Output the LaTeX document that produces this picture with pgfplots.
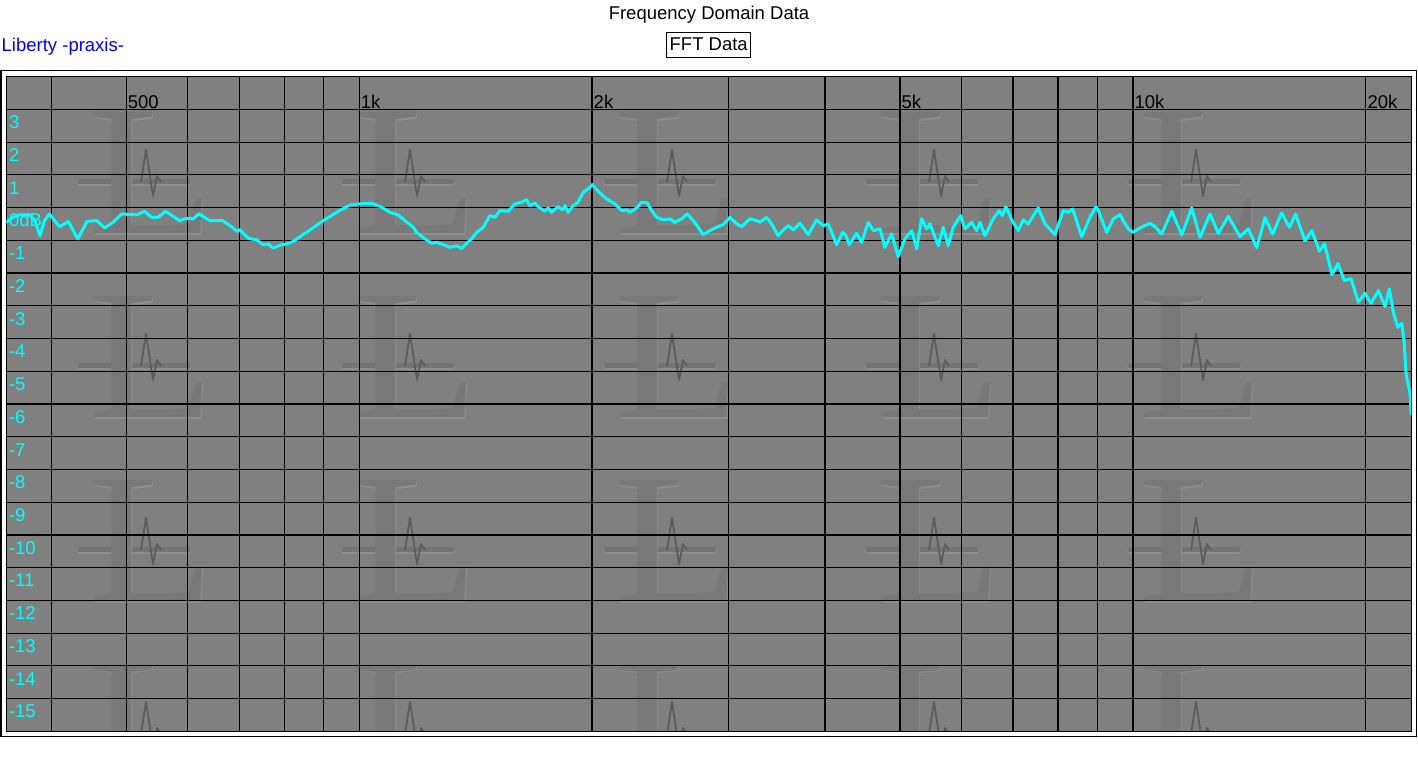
\documentclass[border=0pt]{standalone}
\usepackage{pgfplots}
\pgfplotsset{compat=1.18}
\usepackage{fontspec}
\setmainfont{Liberation Sans}
\newfontfamily\wmfont{Liberation Serif}
\definecolor{plotgray}{RGB}{128,128,128}
\definecolor{wmlight}{RGB}{141,141,141}
\definecolor{wmdark}{RGB}{121,121,121}
\definecolor{wmbar}{RGB}{116,116,116}
\definecolor{wmspike}{RGB}{92,92,92}
\definecolor{fftcyan}{RGB}{0,255,255}
\definecolor{pblue}{RGB}{0,0,255}
\begin{document}
\begin{tikzpicture}[font=\fontsize{18.5bp}{22bp}\selectfont]
\path[use as bounding box] (0,0) rectangle (1418bp,760bp);
\fill[white] (0,0) rectangle (1418bp,760bp);
% header
\node[anchor=base, inner sep=0] at (709bp,740.5bp) {Frequency Domain Data};
\draw[line width=1bp] (666.7bp,702.3bp) rectangle (750.7bp,727.7bp);
\node[anchor=base, inner sep=0] at (708.7bp,709.5bp) {FFT Data};
\node[anchor=base west, inner sep=0, text=pblue] at (1.5bp,708.5bp) {Liberty -praxis-};
% outer frame
\draw[line width=1.2bp] (1bp,23.3bp) rectangle (1416.7bp,689.3bp);
% plot background with watermark
\begin{scope}
\clip (6.3bp,28.7bp) rectangle (1411.3bp,683.3bp);
\fill[plotgray] (6.3bp,28.7bp) rectangle (1411.3bp,683.3bp);
\foreach \xl in {88,352,614,876,1138}{
  \foreach \tp in {113,297,481,665}{
    \pgfmathsetmacro{\yb}{639-\tp}
    \pgfmathsetmacro{\ybar}{691-\tp}
    \draw[wmlight, line width=6.5bp, line cap=round] ({\xl bp-8bp},{\ybar bp-1bp}) -- ({\xl bp+100bp},{\ybar bp-1bp});
    \draw[wmbar, line width=5bp, line cap=round] ({\xl bp-8bp},{\ybar bp}) -- ({\xl bp+100bp},{\ybar bp});
    \node[anchor=base west, inner sep=0, xscale=1.12, text=wmlight, font={\wmfont\fontsize{185bp}{185bp}\selectfont}] at ({\xl bp+1.5bp},{\yb bp-1.5bp}) {L};
    \node[anchor=base west, inner sep=0, xscale=1.12, text=wmdark, font={\wmfont\fontsize{185bp}{185bp}\selectfont}] at ({\xl bp},{\yb bp}) {L};
    \draw[wmspike, line width=1.8bp, line join=round] ({\xl bp+53bp},{\ybar bp}) -- ({\xl bp+58bp},{\ybar bp+32bp}) -- ({\xl bp+65bp},{\ybar bp-14bp}) -- ({\xl bp+69bp},{\ybar bp+6bp}) -- ({\xl bp+73bp},{\ybar bp});
  }}
\end{scope}
\begin{axis}[
  at={(6.3bp,28.7bp)}, anchor=south west,
  scale only axis, width=1405bp, height=654.6bp,
  xmode=log, xmin=350, xmax=22900, ymin=-16, ymax=4,
  axis line style={black, line width=1.2bp},
  major tick length=0pt, minor tick length=0pt,
  xtick={400,500,600,700,800,900,1000,2000,3000,4000,5000,6000,7000,8000,9000,10000,20000},
  xticklabels={,500,,,,,1k,2k,,,5k,,,,,10k,20k},
  xticklabel pos=upper,
  xticklabel style={anchor=base west, inner sep=0pt, xshift=1.5bp, yshift=-31.8bp, text=black},
  ytick={-15,-14,...,3},
  yticklabels={-15,-14,-13,-12,-11,-10,-9,-8,-7,-6,-5,-4,-3,-2,-1,0dB,1,2,3},
  yticklabel style={anchor=base west, inner sep=0pt, xshift=2.5bp, yshift=-19.3bp, text=fftcyan},
  xmajorgrids, ymajorgrids,
  grid style={black, line width=1.2bp},
  clip=true,
]
\addplot[fftcyan, line width=3bp, line join=round, line cap=round] table[x=f, y=db] {
f db
350 -0.449
357 -0.296
364 -0.223
375 -0.223
381 -0.397
387 -0.855
392 -0.397
398 -0.192
404 -0.397
410 -0.581
421 -0.428
433 -0.956
445 -0.419
458 -0.397
469 -0.620
481 -0.449
493 -0.192
516 -0.223
528 -0.113
539 -0.296
550 -0.296
562 -0.113
575 -0.266
586 -0.397
598 -0.327
610 -0.345
621 -0.192
641 -0.397
666 -0.397
684 -0.581
695 -0.724
701 -0.672
719 -0.938
737 -0.987
751 -1.130
763 -1.109
774 -1.231
794 -1.140
812 -1.091
822 -1.030
855 -0.755
899 -0.397
935 -0.144
973 0.082
1002 0.113
1038 0.131
1064 0.040
1096 -0.144
1123 -0.223
1146 -0.397
1175 -0.602
1186 -0.755
1222 -0.987
1241 -1.091
1259 -1.060
1284 -1.130
1310 -1.213
1336 -1.170
1357 -1.244
1377 -1.091
1397 -0.956
1419 -0.755
1447 -0.602
1476 -0.244
1498 -0.296
1520 -0.092
1558 -0.113
1590 0.113
1621 0.162
1646 0.244
1662 0.061
1687 0.144
1703 0.031
1738 -0.113
1755 -0.009
1773 -0.144
1808 0.031
1832 -0.070
1845 0.061
1863 -0.144
1891 0.061
1919 0.162
1948 0.467
1977 0.571
2001 0.703
2037 0.498
2088 0.266
2141 0.113
2184 -0.092
2217 -0.070
2238 -0.144
2284 -0.009
2317 0.162
2357 0.144
2388 -0.092
2423 -0.296
2472 -0.376
2521 -0.345
2559 -0.449
2611 -0.345
2655 -0.192
2702 -0.397
2743 -0.602
2784 -0.825
2840 -0.703
2897 -0.602
2955 -0.519
3014 -0.296
3075 -0.498
3121 -0.581
3199 -0.345
3264 -0.397
3296 -0.449
3362 -0.296
3413 -0.498
3480 -0.855
3533 -0.681
3586 -0.550
3640 -0.681
3713 -0.480
3806 -0.825
3902 -0.376
3979 -0.550
4039 -0.498
4141 -1.130
4216 -0.755
4257 -0.855
4300 -1.130
4395 -0.785
4461 -1.060
4550 -0.449
4618 -0.703
4711 -0.651
4781 -1.213
4878 -0.804
4974 -1.497
5075 -0.956
5178 -0.703
5255 -1.262
5333 -0.345
5414 -0.651
5466 -0.498
5604 -1.161
5687 -0.602
5773 -1.161
5859 -0.602
5990 -0.244
6067 -0.651
6189 -0.449
6282 -0.703
6345 -0.449
6439 -0.855
6599 -0.345
6719 -0.092
6779 -0.244
6855 0.031
6971 -0.376
7111 -0.703
7216 -0.376
7325 -0.498
7546 -0.009
7699 -0.498
7931 -0.825
8128 -0.092
8251 -0.144
8360 -0.040
8587 -0.886
8801 -0.296
8960 0.031
9022 -0.092
9250 -0.755
9435 -0.345
9623 -0.214
9768 -0.498
9892 -0.681
10000 -0.755
10214 -0.620
10522 -0.480
10680 -0.581
10895 -0.804
11226 -0.113
11564 -0.834
11912 -0.009
12210 -0.907
12580 -0.192
12894 -0.785
13283 -0.266
13753 -0.886
14099 -0.651
14454 -1.222
14817 -0.306
15159 -0.810
15569 -0.162
15936 -0.602
16225 -0.199
16691 -1.017
17025 -0.703
17426 -1.329
17689 -1.100
18088 -2.047
18412 -1.711
18763 -2.230
19139 -2.169
19562 -2.893
19953 -2.618
20314 -2.924
20759 -2.536
21180 -3.025
21450 -2.484
21708 -3.199
21995 -3.657
22260 -3.535
22410 -4.064
22545 -5.081
22817 -5.692
22885 -6.303
};
\draw[fftcyan, line width=0.8bp] (axis cs:350,0) ++(1bp,0) -- ++(0,5.5bp) -- ++(10bp,-5.5bp) -- cycle;
\end{axis}
\end{tikzpicture}
\end{document}
